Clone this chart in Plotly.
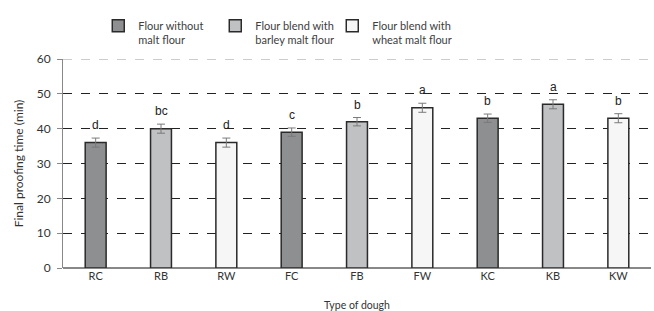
import plotly.graph_objects as go

categories = ["RC", "RB", "RW", "FC", "FB", "FW", "KC", "KB", "KW"]
values = [36, 40, 36, 39, 42, 46, 43, 47, 43]
errors = [1.3, 1.3, 1.3, 1.2, 1.2, 1.3, 1.2, 1.3, 1.3]
letters = ["d", "bc", "d", "c", "b", "a", "b", "a", "b"]
groups = ["Flour without<br>malt flour", "Flour blend with<br>barley malt flour", "Flour blend with<br>wheat malt flour"]
group_of = [0, 1, 2, 0, 1, 2, 0, 1, 2]
colors = ["#8e8f91", "#c0c1c3", "#f6f6f6"]

font = "Lato, Open Sans, sans-serif"
fig = go.Figure()
for g, name in enumerate(groups):
    xs = [c for c, k in zip(categories, group_of) if k == g]
    ys = [v for v, k in zip(values, group_of) if k == g]
    es = [e for e, k in zip(errors, group_of) if k == g]
    fig.add_trace(go.Bar(
        x=xs, y=ys, name=name, width=0.32,
        marker=dict(color=colors[g], line=dict(color="#2a2a2a", width=1.5)),
        error_y=dict(type="data", array=es, color="#7a7a7a", thickness=1, width=4),
    ))

# invisible spacer entry so the last legend label is not clipped
fig.add_trace(go.Bar(x=[categories[0]], y=[None], name=" ", showlegend=True,
                     marker=dict(color="rgba(0,0,0,0)", line=dict(width=0)),
                     hoverinfo="skip"))

for c, v, e, t in zip(categories, values, errors, letters):
    fig.add_annotation(x=c, y=v + e, text=t, showarrow=False, yanchor="bottom",
                       yshift=4, font=dict(family="Liberation Sans, Arial, sans-serif", size=12, color="#222"))

# top gridline drawn lighter, as in the reference
fig.add_shape(type="line", xref="paper", yref="y", x0=0, x1=1, y0=60, y1=60,
              line=dict(color="white", width=2), layer="above")
fig.add_shape(type="line", xref="paper", yref="y", x0=0, x1=1, y0=60, y1=60,
              line=dict(color="#999", width=1, dash="dash"), layer="above")

fig.update_layout(
    width=654, height=311,
    margin=dict(l=63, r=3, t=59, b=43, autoexpand=False),
    paper_bgcolor="white", plot_bgcolor="white",
    barmode="overlay",
    font=dict(family=font, size=11, color="#333"),
    legend=dict(orientation="h", x=0.06, xanchor="left", y=1.225, yanchor="top",
                valign="top", font=dict(size=11, color="#404040"),
                itemwidth=30, tracegroupgap=0, entrywidth=72),
    xaxis=dict(categoryorder="array", categoryarray=categories, showline=False,
               ticks="", tickfont=dict(size=11, color="#333"),
               title=dict(text="Type of dough", font=dict(size=10.5, color="#333"), standoff=21)),
    yaxis=dict(range=[0, 60], dtick=10, showgrid=True, gridcolor="#222",
               griddash="dash", gridwidth=1, zeroline=True, zerolinecolor="#888",
               zerolinewidth=1.5, showline=True, linecolor="#888", linewidth=1,
               ticks="outside", ticklen=5, tickcolor="#888", ticklabelstandoff=4,
               tickfont=dict(size=12, color="#333"),
               title=dict(text="Final proofing time (min)", font=dict(size=12, color="#333"), standoff=10)),
)
fig.write_html("out.html", post_script="document.body.style.margin='0';",
               config={"displayModeBar": False})
